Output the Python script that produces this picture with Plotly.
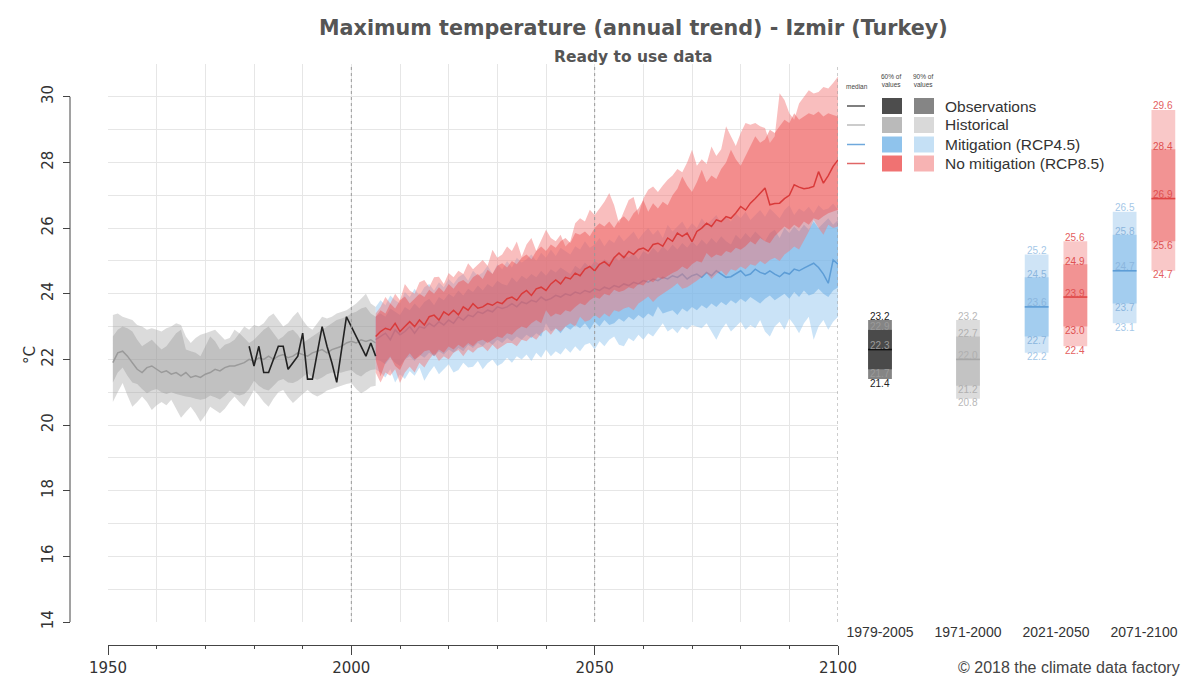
import plotly.graph_objects as go

# ---------------- data ----------------
hist_years = list(range(1951, 2006))
obs_years = list(range(1979, 2006))
fut_years = list(range(2005, 2101))

hist_med = [21.9, 22.2, 22.25, 22.1, 21.9, 21.7, 21.6, 21.75, 21.8, 21.7,
            21.6, 21.65, 21.55, 21.6, 21.5, 21.6, 21.45, 21.5, 21.45, 21.55,
            21.6, 21.7, 21.65, 21.75, 21.8, 21.8, 21.85, 21.9, 22.0, 21.95,
            22.05, 22.0, 22.1, 22.0, 22.1, 22.15, 22.05, 22.1, 22.2, 22.15,
            22.1, 22.2, 22.25, 22.3, 22.2, 22.3, 22.35, 22.4, 22.5, 22.55,
            22.5, 22.6, 22.55, 22.6, 22.5]
hist_p95 = [23.35, 23.4, 23.3, 23.25, 23.2, 23.05, 23.0, 22.9, 22.95, 22.9,
            22.85, 22.95, 23.0, 23.1, 23.05, 22.7, 22.5, 22.65, 22.75, 22.8,
            22.85, 22.9, 22.75, 22.6, 22.65, 22.9, 22.8, 23.0, 22.9, 23.05,
            23.0, 23.1, 23.3, 23.4, 23.2, 23.0, 23.1, 23.3, 23.45, 23.2,
            23.0, 22.9, 23.1, 23.3, 23.25, 23.3, 23.4, 23.45, 23.5, 23.6,
            23.7, 23.85, 24.0, 23.7, 23.6]
hist_p80 = [22.7, 22.9, 23.0, 22.95, 22.85, 22.6, 22.4, 22.5, 22.6, 22.45,
            22.3, 22.4, 22.6, 22.8, 22.9, 22.3, 22.25, 22.2, 22.1, 22.4,
            22.7, 22.55, 22.3, 22.45, 22.5, 22.6, 22.8, 22.65, 22.5, 22.6,
            22.75, 22.9, 23.0, 22.8, 22.6, 22.7, 22.85, 22.9, 22.75, 22.5,
            22.6, 22.7, 22.8, 22.9, 23.0, 23.1, 23.2, 23.25, 23.3, 23.4,
            23.45, 23.55, 23.6, 23.4, 23.3]
hist_p20 = [21.3, 21.6, 21.75, 21.5, 21.3, 21.25, 21.1, 20.97, 21.05, 21.1,
            21.0, 20.95, 21.0, 20.95, 20.9, 20.87, 20.85, 20.8, 20.77, 20.8,
            20.9, 20.85, 20.78, 20.9, 21.05, 20.95, 20.9, 20.95, 21.1, 21.35,
            21.2, 21.1, 21.05, 21.2, 21.35, 21.4, 21.3, 21.28, 21.35, 21.45,
            21.58, 21.45, 21.38, 21.45, 21.55, 21.6, 21.58, 21.6, 21.65, 21.68,
            21.55, 21.48, 21.6, 21.68, 21.7]
hist_p5 = [20.7, 21.0, 21.28, 20.9, 20.56, 20.7, 20.87, 20.7, 20.46, 20.6,
           20.7, 20.6, 20.77, 20.5, 20.22, 20.4, 20.56, 20.35, 20.1, 20.3,
           20.56, 20.45, 20.36, 20.5, 20.7, 20.87, 20.7, 20.56, 20.8, 21.07,
           20.9, 20.7, 20.56, 20.8, 21.0, 21.07, 20.85, 20.67, 20.8, 20.95,
           21.07, 20.95, 20.87, 20.95, 21.05, 21.1, 21.17, 21.2, 21.25, 21.28,
           21.1, 20.97, 21.05, 21.17, 21.2]

obs_vals = [22.4, 21.8, 22.4, 21.6, 21.6, 22.0, 22.4, 22.4, 21.7, 21.9,
            22.1, 22.8, 21.4, 21.4, 22.2, 23.0, 22.4, 21.9, 21.3, 22.3,
            23.3, 23.0, 22.7, 22.4, 22.1, 22.5, 22.1]

# RCP8.5 (no mitigation), 2005-2100
r85_med = [22.7,
           22.85, 22.95, 22.9, 23.1, 22.85, 23.0, 23.15, 23.0, 23.2, 23.05,
           23.3, 23.35, 23.2, 23.45, 23.35, 23.5, 23.36, 23.6, 23.5, 23.7,
           23.56, 23.6, 23.7, 23.65, 23.75, 23.7, 23.85, 23.9, 23.8, 24.0,
           24.1, 23.95, 24.15, 24.2, 24.1, 24.3, 24.42, 24.3, 24.5, 24.45,
           24.63, 24.55, 24.75, 24.83, 24.7, 24.9, 24.98, 24.85, 25.1, 25.24,
           25.1, 25.29, 25.2, 25.35, 25.39, 25.3, 25.5, 25.54, 25.45, 25.7,
           25.6, 25.85, 25.75, 25.85, 25.59, 25.9, 26.0, 26.15, 26.05, 26.25,
           26.2, 26.35, 26.3, 26.46, 26.66, 26.55, 26.76, 26.9, 27.05, 27.22,
           26.71, 26.75, 26.76, 26.9, 27.0, 27.32, 27.25, 27.2, 27.22, 27.27,
           27.72, 27.37, 27.6, 27.88, 28.08]
r85_p95 = [23.4,
           23.6, 23.9, 23.7, 24.0, 23.8, 24.3, 24.1, 24.0, 24.35, 24.42,
           24.2, 24.5, 24.52, 24.3, 24.63, 24.5, 24.7, 24.6, 24.93, 24.75,
           24.9, 25.03, 24.85, 25.34, 25.1, 25.2, 25.44, 25.3, 25.59, 25.13,
           25.5, 25.7, 25.3, 25.6, 25.95, 25.7, 25.6, 25.8, 25.44, 25.6,
           26.15, 26.3, 26.2, 26.56, 26.4, 26.6, 26.8, 27.07, 26.7, 26.15,
           26.5, 26.86, 26.95, 26.4, 26.9, 27.17, 27.27, 27.1, 27.3, 27.47,
           27.6, 27.8, 27.7, 28.0, 28.39, 27.9, 28.1, 27.95, 28.49, 28.2,
           28.4, 29.1, 28.8, 28.5, 28.9, 29.2, 29.15, 29.2, 29.1, 29.05,
           28.59, 28.8, 30.11, 29.9, 29.5, 29.3, 29.8, 30.0, 30.2, 30.1,
           30.15, 30.3, 30.25, 30.42, 30.62]
r85_p80 = [23.3,
           23.5, 23.4, 23.7, 23.55, 23.8, 23.92, 23.7, 23.85, 24.0, 23.9,
           24.12, 24.0, 24.2, 24.05, 24.3, 24.15, 24.35, 24.42, 24.3, 24.5,
           24.6, 24.45, 24.73, 24.6, 24.85, 24.93, 24.8, 25.0, 24.9, 25.1,
           25.2, 25.05, 25.3, 25.44, 25.3, 25.5, 25.4, 25.6, 25.7, 25.55,
           25.85, 25.8, 25.9, 25.75, 26.0, 26.15, 26.05, 26.2, 26.0, 26.25,
           26.36, 26.2, 26.45, 26.6, 26.86, 26.5, 26.76, 26.6, 26.8, 26.7,
           27.0, 27.2, 27.57, 27.3, 27.1, 27.4, 27.78, 27.4, 27.6, 27.5,
           27.8, 28.0, 28.39, 28.1, 27.9, 28.2, 28.5, 28.8, 28.6, 28.7,
           29.0, 28.9, 29.1, 29.3, 29.2, 29.5, 29.3, 29.4, 29.5, 29.45,
           29.55, 29.4, 29.5, 29.45, 29.4]
r85_p20 = [22.0,
           21.48, 21.9, 22.09, 21.8, 21.68, 22.0, 22.19, 22.0, 22.1, 22.25,
           22.29, 22.1, 22.3, 22.2, 22.39, 22.3, 22.45, 22.35, 22.5, 22.4,
           22.55, 22.6, 22.5, 22.6, 22.7, 22.65, 22.8, 22.75, 22.9, 23.0,
           22.95, 23.1, 23.2, 23.1, 23.5, 23.3, 23.4, 23.35, 23.5, 23.45,
           23.6, 23.71, 23.65, 23.8, 23.9, 23.85, 24.0, 23.95, 24.12, 24.05,
           24.1, 24.2, 24.15, 24.3, 24.25, 24.42, 24.35, 24.5, 24.45, 24.55,
           24.63, 24.7, 24.83, 24.75, 24.9, 25.0, 24.95, 25.24, 25.1, 25.2,
           25.15, 25.3, 25.25, 25.4, 25.34, 25.45, 25.6, 25.5, 25.7, 25.6,
           25.54, 25.75, 25.9, 26.05, 25.95, 26.1, 26.0, 26.2, 26.1, 26.3,
           26.25, 26.36, 26.45, 26.5, 26.56]
r85_p5 = [21.6,
          21.3, 21.6, 21.5, 21.7, 21.28, 21.6, 21.78, 21.6, 21.9, 21.75,
          22.0, 22.19, 21.95, 22.1, 22.0, 22.2, 22.29, 22.1, 22.3, 22.2,
          22.35, 22.39, 22.25, 22.45, 22.3, 22.4, 22.5, 22.5, 22.4, 22.6,
          22.55, 22.7, 22.6, 22.8, 22.9, 22.75, 22.95, 22.85, 23.0, 23.1,
          23.0, 23.3, 23.15, 23.2, 23.35, 23.25, 23.4, 23.3, 23.5, 23.45,
          23.55, 23.6, 23.5, 23.7, 23.8, 23.92, 23.75, 23.9, 24.0, 24.1,
          24.2, 24.32, 24.15, 24.2, 24.3, 24.4, 24.5, 24.63, 24.45, 24.6,
          24.7, 24.55, 24.75, 24.7, 24.83, 24.75, 24.9, 24.85, 25.0, 24.9,
          25.03, 25.1, 25.0, 25.2, 25.3, 25.44, 25.35, 25.6, 25.9, 26.25,
          26.0, 25.8, 26.1, 26.0, 26.05]

# RCP4.5 (mitigation), 2005-2100
r45_med = [22.6,
           22.7, 22.8, 22.6, 22.9, 22.75, 22.85, 23.0, 22.8, 23.0, 22.95,
           23.1, 23.0, 23.15, 23.05, 23.2, 23.1, 23.3, 23.2, 23.35, 23.3,
           23.45, 23.4, 23.5, 23.45, 23.6, 23.55, 23.6, 23.7, 23.6, 23.75,
           23.7, 23.8, 23.75, 23.9, 23.8, 23.85, 23.95, 23.9, 24.0, 23.95,
           24.05, 24.0, 24.1, 24.05, 24.15, 24.1, 24.2, 24.15, 24.25, 24.2,
           24.3, 24.25, 24.35, 24.3, 24.4, 24.35, 24.45, 24.4, 24.5, 24.45,
           24.55, 24.5, 24.6, 24.45, 24.55, 24.6, 24.5, 24.65, 24.55, 24.7,
           24.6, 24.5, 24.52, 24.6, 24.7, 24.55, 24.6, 24.75, 24.65, 24.6,
           24.7, 24.6, 24.52, 24.65, 24.6, 24.75, 24.7, 24.78, 24.85, 24.93,
           24.8, 24.6, 24.32, 25.03, 24.9]
r45_p95 = [23.6,
           23.8, 23.65, 23.95, 23.8, 23.7, 24.05, 23.9, 24.15, 23.95, 24.2,
           24.3, 24.1, 24.35, 24.2, 24.45, 24.3, 24.5, 24.6, 24.4, 24.7,
           24.55, 24.65, 24.85, 24.6, 24.9, 24.75, 25.0, 24.8, 25.1, 24.95,
           25.05, 25.2, 25.0, 25.25, 25.1, 25.35, 25.15, 25.4, 25.3, 25.2,
           25.45, 25.35, 25.6, 25.4, 25.5, 25.7, 25.45, 25.65, 25.55, 25.8,
           25.6, 25.75, 25.9, 25.65, 25.85, 26.0, 25.8, 25.95, 25.7, 26.1,
           25.9, 26.05, 26.2, 25.95, 26.15, 26.0, 26.3, 26.1, 26.25, 26.4,
           26.15, 26.35, 26.2, 26.45, 26.3, 26.5, 26.25, 26.4, 26.55, 26.35,
           26.6, 26.45, 26.3, 26.55, 26.7, 26.4, 26.6, 26.5, 26.65, 26.45,
           26.7, 26.55, 26.6, 26.75, 26.56]
r45_p80 = [23.3,
           23.4, 23.3, 23.55, 23.45, 23.35, 23.6, 23.5, 23.7, 23.55, 23.75,
           23.85, 23.65, 23.9, 23.8, 24.0, 23.9, 24.1, 23.95, 24.15, 24.05,
           24.25, 24.1, 24.3, 24.2, 24.4, 24.3, 24.25, 24.5, 24.35, 24.55,
           24.45, 24.6, 24.5, 24.7, 24.55, 24.75, 24.65, 24.8, 24.7, 24.6,
           24.85, 24.75, 24.95, 24.8, 25.0, 24.9, 25.05, 24.95, 25.15, 25.0,
           25.2, 25.1, 25.25, 25.05, 25.3, 25.2, 25.4, 25.25, 25.45, 25.3,
           25.5, 25.35, 25.55, 25.4, 25.6, 25.45, 25.65, 25.5, 25.7, 25.55,
           25.75, 25.6, 25.5, 25.8, 25.65, 25.85, 25.7, 25.9, 25.75, 25.6,
           25.85, 25.95, 25.7, 26.0, 25.85, 26.05, 25.9, 26.1, 25.95, 26.2,
           26.0, 26.15, 26.3, 26.1, 26.25]
r45_p20 = [22.0,
           21.95, 21.85, 22.05, 21.9, 21.8, 22.0, 22.1, 21.95, 22.15, 22.05,
           22.2, 22.1, 22.25, 22.15, 22.3, 22.2, 22.35, 22.25, 22.45, 22.35,
           22.5, 22.4, 22.55, 22.45, 22.6, 22.5, 22.65, 22.55, 22.7, 22.6,
           22.75, 22.65, 22.8, 22.7, 23.1, 22.85, 22.95, 22.8, 23.0, 22.9,
           23.05, 22.95, 23.1, 22.9, 23.15, 23.0, 23.2, 23.05, 23.1, 23.25,
           23.15, 23.3, 23.2, 23.35, 23.25, 23.4, 23.3, 23.61, 23.4, 23.45,
           23.5, 23.35, 23.55, 23.45, 23.6, 23.5, 23.65, 23.55, 23.7, 23.6,
           23.75, 23.65, 23.8, 23.7, 23.85, 23.75, 23.9, 23.8, 23.7, 23.85,
           23.95, 23.8, 23.9, 24.0, 23.85, 24.05, 23.9, 24.1, 23.95, 24.0,
           24.15, 24.0, 23.9, 24.1, 24.2]
r45_p5 = [21.7,
          21.6, 21.45, 21.7, 21.3, 21.55, 21.4, 21.65, 21.5, 21.75, 21.35,
          21.6, 21.8, 21.55, 21.7, 21.85, 21.6, 21.68, 21.9, 21.75, 21.78,
          21.95, 21.7, 21.88, 22.0, 21.8, 21.88, 22.05, 21.9, 22.1, 22.0,
          22.15, 21.95, 22.2, 22.05, 22.3, 22.1, 22.25, 22.15, 22.35, 22.2,
          22.4, 22.25, 22.45, 22.5, 22.3, 22.55, 22.4, 22.6, 22.7, 22.45,
          22.4, 22.65, 22.55, 22.75, 22.6, 22.8, 22.7, 22.9, 23.1, 22.85,
          22.95, 22.8, 23.0, 22.9, 23.05, 23.0, 22.95, 23.1, 22.85, 22.6,
          22.9, 23.1, 22.85, 23.0, 23.15, 22.9, 23.05, 22.95, 23.2, 22.85,
          22.7, 23.0, 23.15, 22.9, 23.25, 23.05, 22.8, 23.1, 23.3, 22.6,
          23.0, 23.2, 22.9, 23.15, 23.3]

# summary boxes (right panel)
period_labels = ["1979-2005", "1971-2000", "2021-2050", "2071-2100"]
box_period = [0, 1, 2, 2, 3, 3]
box_p5 = [21.4, 20.8, 22.2, 22.4, 23.1, 24.7]
box_p20 = [21.7, 21.2, 22.7, 23.0, 23.7, 25.6]
box_med = [22.3, 22.0, 23.6, 23.9, 24.7, 26.9]
box_p80 = [22.9, 22.7, 24.5, 24.9, 25.8, 28.4]
box_p95 = [23.2, 23.2, 25.2, 25.6, 26.5, 29.6]

legend_names = ["Observations", "Historical", "Mitigation (RCP4.5)", "No mitigation (RCP8.5)"]

# ---------------- styling / layout ----------------
W, H = 1184, 677
ML, MR, MT, MB = 70, 0, 64, 32
PW = W - ML - MR
PH = H - MT - MB


def fx(px):
    return (px - ML) / PW


def fy(py):
    return 1 - (py - MT) / PH


NARROW = "Liberation Sans Narrow, Liberation Sans, Arial Narrow, sans-serif"
SANS = "Liberation Sans, Arial, sans-serif"

box_offset = [0.0, 0.0, -0.22, 0.22, -0.22, 0.22]
box_c90 = ["#858585", "#dcdcdc", "#cfe4f6", "#f9c8c8", "#cfe4f6", "#f9c8c8"]
box_c60 = ["#4a4a4a", "#c3c3c3", "#a3cdef", "#f29393", "#a3cdef", "#f29393"]
box_cmed = ["#111111", "#a8a8a8", "#5d9dd6", "#e04545", "#5d9dd6", "#e04545"]
box_lab_out = ["#222222", "#b8b8b8", "#a5c8e8", "#e46060", "#a5c8e8", "#e46060"]
box_lab_in = ["#9a9a9a", "#b0b0b0", "#8bb6de", "#e05050", "#8bb6de", "#e05050"]
BOX_W = 0.27

fig = go.Figure()


def band(xs, lo, hi, color):
    xs = list(xs)
    fig.add_trace(go.Scatter(
        x=xs + xs[::-1], y=list(hi) + list(lo)[::-1],
        fill="toself", fillcolor=color, mode="lines", line=dict(width=0),
        hoverinfo="skip", showlegend=False))


def median_line(xs, ys, color, width=1.5):
    fig.add_trace(go.Scatter(x=xs, y=ys, mode="lines",
                             line=dict(color=color, width=width),
                             hoverinfo="skip", showlegend=False))


band(hist_years, hist_p5, hist_p95, "rgba(160,160,160,0.38)")
band(hist_years, hist_p20, hist_p80, "rgba(150,150,150,0.38)")
median_line(hist_years, hist_med, "#9a9a9a")
band(fut_years, r45_p5, r45_p95, "rgba(150,200,240,0.50)")
band(fut_years, r45_p20, r45_p80, "rgba(110,175,230,0.55)")
median_line(fut_years, r45_med, "#5d9dd6")
band(fut_years, r85_p5, r85_p95, "rgba(242,120,120,0.48)")
band(fut_years, r85_p20, r85_p80, "rgba(235,75,75,0.42)")
median_line(fut_years, r85_med, "#d93a3a")
median_line(obs_years, obs_vals, "#222222", 1.6)

annotations = []
for i in range(len(box_period)):
    c = box_period[i] + 0.5 + box_offset[i]
    fig.add_trace(go.Bar(x=[c], y=[box_p95[i] - box_p5[i]], base=[box_p5[i]],
                         width=BOX_W, marker=dict(color=box_c90[i], line=dict(width=0)),
                         xaxis="x2", yaxis="y2", hoverinfo="skip", showlegend=False))
    fig.add_trace(go.Bar(x=[c], y=[box_p80[i] - box_p20[i]], base=[box_p20[i]],
                         width=BOX_W, marker=dict(color=box_c60[i], line=dict(width=0)),
                         xaxis="x2", yaxis="y2", hoverinfo="skip", showlegend=False))
    fig.add_trace(go.Scatter(x=[c - BOX_W / 2, c + BOX_W / 2], y=[box_med[i], box_med[i]],
                             mode="lines", line=dict(color=box_cmed[i], width=1.6),
                             xaxis="x2", yaxis="y2", hoverinfo="skip", showlegend=False))
    for val, shift, col in [(box_p95[i], 4, box_lab_out[i]), (box_p80[i], 3, box_lab_in[i]),
                            (box_med[i], 4, box_lab_in[i]), (box_p20[i], -4, box_lab_in[i]),
                            (box_p5[i], -4, box_lab_out[i])]:
        annotations.append(dict(x=c, y=val, xref="x2", yref="y2", text=f"{val:.1f}",
                                showarrow=False, yshift=shift,
                                font=dict(size=10, color=col, family=SANS)))

fig.update_layout(barmode="overlay")


def ann(text, px, py, size, color="#333", family=SANS, xanchor="center",
        yanchor="middle", textangle=0):
    annotations.append(dict(x=fx(px), y=fy(py), xref="paper", yref="paper", text=text,
                            showarrow=False, xanchor=xanchor, yanchor=yanchor,
                            textangle=textangle,
                            font=dict(size=size, color=color, family=family)))


ann("<b>Maximum temperature (annual trend) - Izmir (Turkey)</b>", 633, 28, 20.7, "#555",
    "DejaVu Sans")
ann("<b>Ready to use data</b>", 634, 57, 15.5, "#555", "DejaVu Sans")
ann("°C", 30, 355, 15, "#333", "DejaVu Sans", textangle=-90)
ann("© 2018 the climate data factory", 1069, 667, 16, "#444", NARROW)

ann("median", 857, 87, 6.5, "#444")
ann("60% of<br>values", 891, 80, 6.5, "#444")
ann("90% of<br>values", 923, 80, 6.5, "#444")
leg_line = ["#555555", "#bbbbbb", "#6fa8dc", "#e06666"]
leg_c60 = ["#4d4d4d", "#bababa", "#8fc3ec", "#f07272"]
leg_c90 = ["#858585", "#d9d9d9", "#c5e0f5", "#f7b3b3"]
leg_rows = [106, 125, 144.5, 163.5]
shapes = []
for k, name in enumerate(legend_names):
    yc = leg_rows[k]
    shapes.append(dict(type="line", xref="paper", yref="paper", x0=fx(847), x1=fx(865),
                       y0=fy(yc), y1=fy(yc), line=dict(color=leg_line[k], width=1.5)))
    shapes.append(dict(type="rect", xref="paper", yref="paper", x0=fx(882), x1=fx(902),
                       y0=fy(yc - 8), y1=fy(yc + 8), fillcolor=leg_c60[k], line=dict(width=0)))
    shapes.append(dict(type="rect", xref="paper", yref="paper", x0=fx(914), x1=fx(934),
                       y0=fy(yc - 8), y1=fy(yc + 8), fillcolor=leg_c90[k], line=dict(width=0)))
    ann(name, 943, yc, 15.5, "#333", SANS, xanchor="left")

for yr in [2000, 2050, 2100]:
    shapes.append(dict(type="line", xref="x", yref="y domain", x0=yr, x1=yr, y0=0, y1=1,
                       line=dict(color="#9a9a9a", width=1, dash="dot"), layer="above"))
shapes.append(dict(type="line", xref="paper", yref="y", x0=0, x1=0, y0=14, y1=30,
                   line=dict(color="#444", width=1)))

fig.update_layout(
    width=W, height=H, autosize=False, margin=dict(l=ML, r=MR, t=MT, b=MB),
    paper_bgcolor="white", plot_bgcolor="white", showlegend=False,
    font=dict(family="DejaVu Sans", color="#333"),
    xaxis=dict(domain=[fx(108), fx(838)], range=[1950, 2100], anchor="free", position=0,
               automargin=False,
               tickmode="linear", tick0=1950, dtick=50,
               ticks="outside", ticklen=9, tickcolor="#444", tickwidth=1,
               showline=True, linecolor="#444", linewidth=1,
               showgrid=True, gridcolor="#e6e6e6", gridwidth=1, zeroline=False,
               minor=dict(dtick=10, tick0=1950, ticks="outside", ticklen=3,
                          tickcolor="#444", showgrid=True, gridcolor="#e6e6e6"),
               tickfont=dict(size=15, color="#333", family="DejaVu Sans")),
    yaxis=dict(domain=[fy(622), 1], range=[14, 31], anchor="free", position=0,
               automargin=False,
               tickmode="linear", tick0=14, dtick=2, tickangle=-90, ticklabelstandoff=4,
               ticks="outside", ticklen=7, tickcolor="#444", tickwidth=1,
               showline=False, showgrid=True, gridcolor="#e6e6e6", zeroline=False,
               minor=dict(dtick=1, tick0=14, showgrid=True, gridcolor="#e6e6e6"),
               tickfont=dict(size=15, color="#333", family="DejaVu Sans")),
    xaxis2=dict(domain=[fx(840), 1], range=[0.5 - 40 / 88, 0.5 - 40 / 88 + 344 / 88],
                anchor="y2", automargin=False,
                tickmode="array", tickvals=[0.5, 1.5, 2.5, 3.5],
                ticktext=period_labels, ticks="", showgrid=False, zeroline=False,
                showline=False, tickfont=dict(size=14, color="#333", family=NARROW)),
    yaxis2=dict(domain=[fy(622), 1], range=[14, 31], anchor="x2", visible=False,
                automargin=False, showgrid=False, zeroline=False),
    annotations=annotations, shapes=shapes,
)

fig.write_html("out.html")
